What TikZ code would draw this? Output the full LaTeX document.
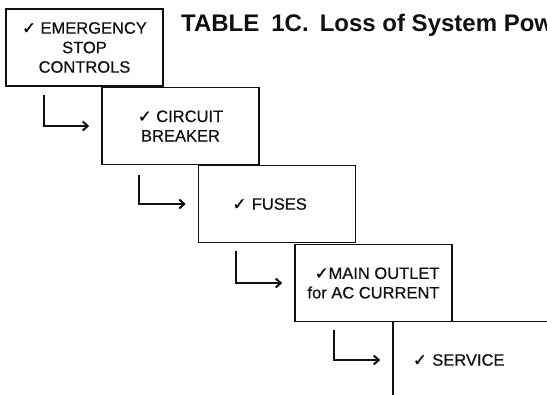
\documentclass[tikz,border=0pt]{standalone}
\usepackage{fontspec}
\setmainfont{Liberation Sans}
\newfontfamily\boxfont[FakeBold=0.6]{Liberation Sans}
\newfontfamily\chkfont[FakeBold=1.5]{DejaVu Sans}
\usepackage{tikz}
\usetikzlibrary{positioning, arrows.meta}
\definecolor{tInk}{HTML}{111111}
\newcommand{\ckm}{{\chkfont\char"2713}}

\begin{document}
\begin{tikzpicture}[x=1pt, y=-1pt, >={Straight Barb[length=5pt,width=9pt]},
  stepbox/.style={draw=tInk, line width=1.6pt, minimum width=157pt, minimum height=77pt,
    inner sep=0pt, align=center, text=tInk, font=\boxfont\fontsize{16.5}{19.5}\selectfont},
  flow/.style={->, line width=2pt, draw=tInk, shorten >=12pt}]
  \useasboundingbox (0,0) rectangle (547,395);
  \clip (0,0) rectangle (547,395);
  % title, cut at the right edge
  \node[anchor=base west, inner sep=0pt, text=tInk, font=\fontsize{24}{28}\selectfont\bfseries]
    (title) at (181,32) {TABLE\hspace{12pt}1C.\hspace{11pt}Loss of System Pow};
  % the steps
  \node[stepbox] (b1) at (84.5,47.5) {\ckm\ EMERGENCY\\STOP\\CONTROLS};
  \node[stepbox] (b2) at (180.5,126) {\ckm\ CIRCUIT\\BREAKER};
  \node[stepbox, text width=89pt, inner xsep=34pt, align=left] (b3) at (277,204) {\ckm\ FUSES};
  \node[stepbox, align=right] (b4) at (373.5,283) {\ckm MAIN OUTLET\\for AC CURRENT};
  \node[stepbox, text width=117pt, inner xsep=20pt, align=left] (b5) at (471.5,360) {\ckm\ SERVICE};
  % arrows
  \coordinate (s1) at ([shift={(39,8)}]b1.south west);
  \coordinate (s2) at ([shift={(38,10)}]b2.south west);
  \coordinate (s3) at ([shift={(38,8)}]b3.south west);
  \coordinate (s4) at ([shift={(40,8)}]b4.south west);
  \draw[flow] (s1) |- (b2.west);
  \draw[flow] (s2) |- (b3.west);
  \draw[flow] (s3) |- (b4.west);
  \draw[flow] (s4) |- (b5.west);
\end{tikzpicture}
\end{document}
